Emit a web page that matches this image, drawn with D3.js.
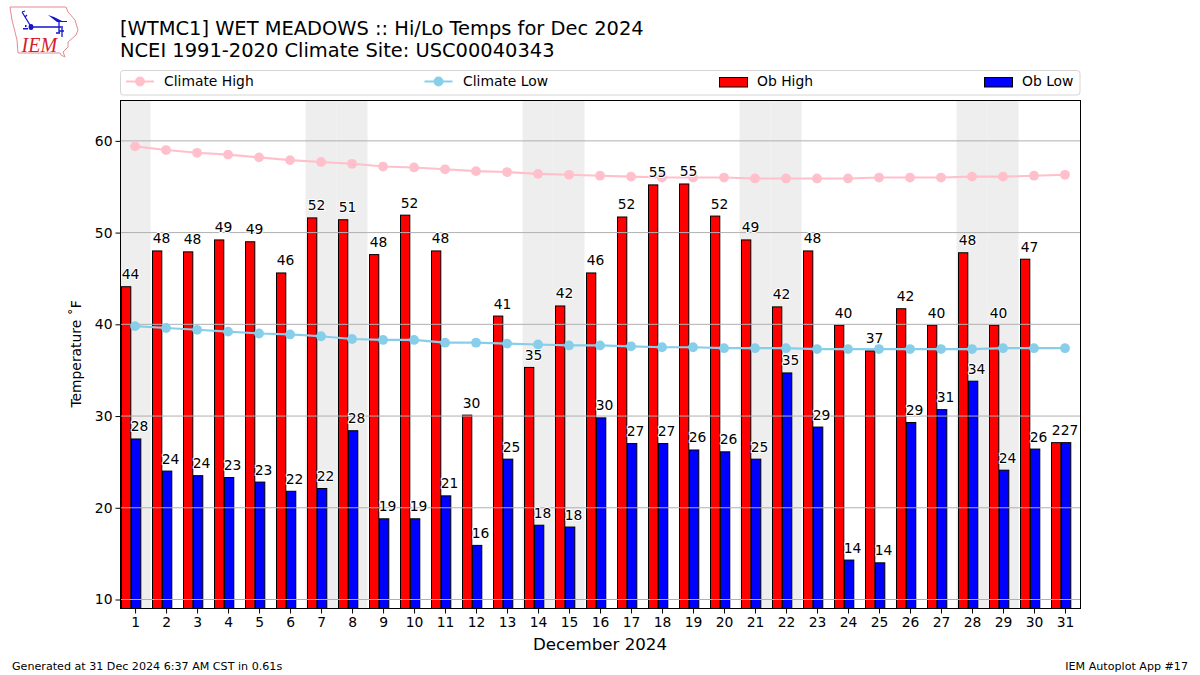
<!DOCTYPE html>
<html><head><meta charset="utf-8">
<script src="https://cdn.jsdelivr.net/npm/d3@7/dist/d3.min.js"></script>
<style>html,body{margin:0;padding:0;background:#fff}svg{display:block}text{font-family:"DejaVu Sans",sans-serif;fill:#000}</style>
</head><body><svg id="c" width="1200" height="675"></svg>
<script>
const days = d3.range(1, 32);
const weekendDays = [1, 7, 8, 14, 15, 21, 22, 28, 29];
const obHigh = [44.1,48.0,47.9,49.2,49.0,45.6,51.6,51.4,47.6,51.9,48.0,30.1,40.9,35.3,42.0,45.6,51.7,55.2,55.3,51.8,49.2,41.9,48.0,39.9,37.1,41.7,39.9,47.8,39.9,47.1,27.1];
const obLow = [27.5,24.0,23.5,23.3,22.8,21.8,22.1,28.4,18.8,18.8,21.3,15.9,25.3,18.1,17.9,29.8,27.0,27.0,26.3,26.1,25.3,34.7,28.8,14.3,14.0,29.3,30.7,33.8,24.1,26.4,27.1];
const climateHigh = [59.4,59.0,58.7,58.5,58.2,57.9,57.7,57.5,57.2,57.1,56.9,56.7,56.6,56.4,56.3,56.2,56.1,56.0,56.0,56.0,55.9,55.9,55.9,55.9,56.0,56.0,56.0,56.1,56.1,56.2,56.3];
const climateLow = [39.8,39.6,39.4,39.2,39.0,38.9,38.7,38.4,38.3,38.3,38.0,38.0,37.9,37.8,37.7,37.7,37.6,37.5,37.5,37.4,37.4,37.4,37.3,37.3,37.3,37.3,37.3,37.3,37.4,37.4,37.4];
const yTicks = [10,20,30,40,50,60];
const titleLines = ["[WTMC1] WET MEADOWS :: Hi/Lo Temps for Dec 2024","NCEI 1991-2020 Climate Site: USC00040343"];

const C = {high:"#ffc0cb", low:"#87ceeb", bh:"#ff0000", bl:"#0000ff"};
const L=120.5,R=1080.5,T=100.5,B=608.5;
const x=d3.scaleLinear().domain([0.53,31.5]).range([L,R]);
const y=d3.scaleLinear().domain([9.02,64.4]).range([B,T]);
const svg=d3.select("#c");

// logo
const logo=svg.append("g").attr("class","logo");
logo.append("path").attr("fill","#fff").attr("stroke","#e58a92").attr("stroke-width",1)
 .attr("d","M10 7 L66 7 L68 12 L75 20 L78 30 L76 35 L68 42 L68 47 L63 52 L65 57 L61 55 L60 53 L18 53 L17 40 L12 20 Z");
logo.append("text").attr("x",21.5).attr("y",52).attr("font-size",20).attr("font-style","italic")
 .style("font-family","'Liberation Serif',serif").style("fill","#d81e2c").text("IEM");
const lb=logo.append("g").attr("stroke","#1515d0").attr("fill","none").attr("stroke-width",1.3);
lb.append("path").attr("d","M31 27 H63 M22 12 L30 25 M22 12 L25 11 M25 17 L27 15 M59 21 V33 M56 33 H60 M62 28 V37 M59 31 H64");
logo.append("ellipse").attr("cx",31).attr("cy",27).attr("rx",2.4).attr("ry",3).attr("fill","#1515d0");
logo.append("path").attr("fill","#1515d0").attr("d","M48 15 L54 17 L62 21 L67 21 V22 L57 22 Z M23 28 h5 v1.5 h-5 Z M25 25 h1.5 v2 h-1.5 Z");

// titles
svg.selectAll("text.title").data(titleLines).join("text").attr("class","title")
 .attr("x",120).attr("y",(d,i)=>i?57:35).attr("font-size",19.44).text(d=>d);

// legend
svg.append("rect").attr("x",120.5).attr("y",70.5).attr("width",959.5).attr("height",24.5).attr("rx",3)
 .attr("fill","#fff").attr("stroke","#d5d5d5").attr("stroke-width",1);
const LY=81.5;
[["Climate High",C.high,126,164],["Climate Low",C.low,424.5,463]].forEach(([t,c,hx,tx])=>{
  svg.append("line").attr("x1",hx).attr("x2",hx+28).attr("y1",LY).attr("y2",LY).attr("stroke",c).attr("stroke-width",2);
  svg.append("circle").attr("cx",hx+14).attr("cy",LY).attr("r",4.9).attr("fill",c);
  svg.append("text").attr("x",tx).attr("y",LY+4.5).attr("font-size",13.89).text(t);
});
[["Ob High",C.bh,719.5,757],["Ob Low",C.bl,984.5,1022]].forEach(([t,c,hx,tx])=>{
  svg.append("rect").attr("x",hx).attr("y",77.5).attr("width",28).attr("height",9.5).attr("fill",c).attr("stroke","#000").attr("stroke-width",1);
  svg.append("text").attr("x",tx).attr("y",LY+4.5).attr("font-size",13.89).text(t);
});

// plot
svg.append("rect").attr("x",L).attr("y",T).attr("width",R-L).attr("height",B-T).attr("fill","#fff");
svg.append("g").selectAll("rect").data(weekendDays).join("rect")
 .attr("x",d=>Math.max(L,x(d-0.5))).attr("width",d=>x(d+0.5)-Math.max(L,x(d-0.5)))
 .attr("y",T).attr("height",B-T).attr("fill","#eeeeee");

const bw=0.3, off=-0.145;
const bars=(vals,x0,col)=>svg.append("g").selectAll("rect").data(days).join("rect")
 .attr("x",d=>Math.round(x(d+x0))+0.5).attr("width",x(bw)-x(0))
 .attr("y",(d,i)=>y(vals[i])).attr("height",(d,i)=>B-y(vals[i]))
 .attr("fill",col).attr("stroke","#000").attr("stroke-width",1);
bars(obHigh,off-bw,C.bh);
bars(obLow,off,C.bl);

// grid
svg.append("g").selectAll("line").data(yTicks).join("line")
 .attr("x1",L).attr("x2",R).attr("y1",d=>y(d)).attr("y2",d=>y(d))
 .attr("stroke","#b0b0b0").attr("stroke-width",1);

// climate
const line=v=>d3.line().x(d=>x(d)).y((d,i)=>y(v[i]))(days);
[[climateHigh,C.high],[climateLow,C.low]].forEach(([v,c])=>{
  svg.append("path").attr("d",line(v)).attr("fill","none").attr("stroke",c).attr("stroke-width",2.1);
  svg.append("g").selectAll("circle").data(days).join("circle")
   .attr("cx",d=>x(d)).attr("cy",(d,i)=>y(v[i])).attr("r",4.9).attr("fill",c);
});

// labels
const labels=(vals,dx)=>svg.append("g").selectAll("text").data(days).join("text")
 .attr("x",d=>x(d)+dx).attr("y",(d,i)=>y(vals[i])-7.5).attr("text-anchor","middle").attr("font-size",13.89)
 .style("paint-order","stroke").style("stroke","#fff").style("stroke-width",2).style("stroke-linejoin","round")
 .text((d,i)=>Math.round(vals[i]));
labels(obHigh,-4.5);
labels(obLow,4.5);

// frame + axes
svg.append("rect").attr("x",L).attr("y",T).attr("width",R-L).attr("height",B-T).attr("fill","none").attr("stroke","#000").attr("stroke-width",1);
const xa=svg.append("g").attr("transform",`translate(0,${B})`).call(d3.axisBottom(x).tickValues(days).tickFormat(d3.format("d")).tickSize(5).tickPadding(4));
const ya=svg.append("g").attr("transform",`translate(${L},0)`).call(d3.axisLeft(y).tickValues(yTicks).tickSize(5).tickPadding(3));
[xa,ya].forEach(g=>{g.select(".domain").remove();g.selectAll("text").attr("font-size",13.89).style("font-family",'"DejaVu Sans",sans-serif');g.selectAll("line").attr("stroke","#000");});

svg.append("text").attr("transform","translate(81,354) rotate(-90)").attr("text-anchor","middle").attr("font-size",13.89).text("Temperature \u02DAF");
svg.append("text").attr("x",600).attr("y",649.5).attr("text-anchor","middle").attr("font-size",16.67).text("December 2024");
svg.append("text").attr("x",12).attr("y",670).attr("font-size",11.11).text("Generated at 31 Dec 2024 6:37 AM CST in 0.61s");
svg.append("text").attr("x",1188).attr("y",670).attr("text-anchor","end").attr("font-size",11.11).text("IEM Autoplot App #17");
</script></body></html>
